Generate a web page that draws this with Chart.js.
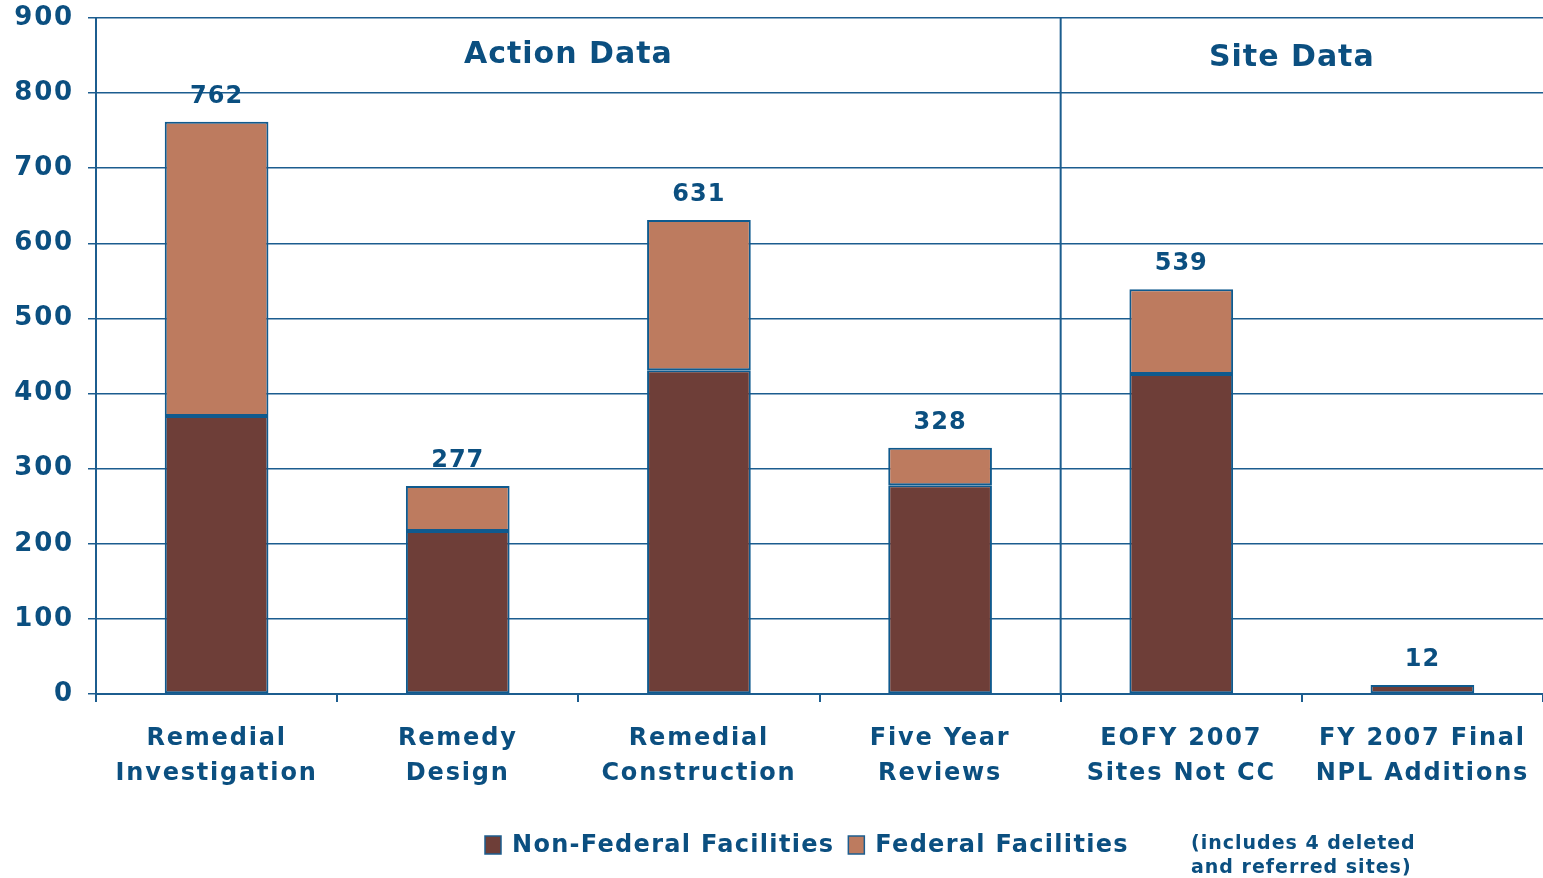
<!DOCTYPE html>
<html>
<head>
<meta charset="utf-8">
<script src="https://cdn.jsdelivr.net/npm/chart.js@4.4.1/dist/chart.umd.min.js"></script>
<style>
  html, body { margin: 0; padding: 0; background: #fff; }
  #wrap { position: relative; width: 1543px; height: 878px; }
  #note {
    position: absolute; left: 1191px; top: 830px;
    font: bold 19px "DejaVu Sans", sans-serif; line-height: 24px;
    color: #0b4f80; letter-spacing: 1px;
  }
</style>
</head>
<body>
<div id="wrap">
  <canvas id="chart" width="1543" height="878"></canvas>
  <div id="note">(includes 4 deleted<br>and referred sites)</div>
</div>
<script>
const categories = [
    ['Remedial', 'Investigation'],
    ['Remedy', 'Design'],
    ['Remedial', 'Construction'],
    ['Five Year', 'Reviews'],
    ['EOFY 2007', 'Sites Not CC'],
    ['FY 2007 Final', 'NPL Additions']
];
const nonFederal = [370, 217, 431, 278, 426, 12];
const federal = [392, 60, 200, 50, 113, 0];
const totals = [762, 277, 631, 328, 539, 12];
const sections = [
    { label: 'Action Data', from: 0, to: 3 },
    { label: 'Site Data', from: 4, to: 5 }
];

const blue = '#0b4f80';
const lineBlue = '#1c5d8f';
const font = '"DejaVu Sans", sans-serif';

const extras = {
    id: 'extras',
    beforeDraw(chart) {
        chart.ctx.letterSpacing = '1.8px';
    },
    afterDatasetsDraw(chart) {
        const ctx = chart.ctx;
        const x = chart.scales.x;
        const y = chart.scales.y;
        const half = (x.getPixelForValue(1) - x.getPixelForValue(0)) / 2;
        ctx.save();
        ctx.letterSpacing = '1px';

        // divider between action and site data
        const divX = x.getPixelForValue(sections[1].from) - half;
        ctx.strokeStyle = lineBlue;
        ctx.lineWidth = 2;
        ctx.beginPath();
        ctx.moveTo(divX, y.getPixelForValue(900));
        ctx.lineTo(divX, y.getPixelForValue(0));
        ctx.stroke();

        // section titles
        ctx.fillStyle = blue;
        ctx.textAlign = 'center';
        ctx.textBaseline = 'middle';
        ctx.font = 'bold 30px ' + font;
        sections.forEach((s, i) => {
            const l = x.getPixelForValue(s.from) - half;
            const r = x.getPixelForValue(s.to) + half;
            ctx.fillText(s.label, (l + r) / 2 - 10, y.getPixelForValue(850) + i * 3);
        });

        // totals above bars
        ctx.font = 'bold 24px ' + font;
        totals.forEach((t, i) => {
            ctx.fillText(String(t), x.getPixelForValue(i), y.getPixelForValue(t) - 25);
        });

        // legend
        ctx.font = 'bold 24px ' + font;
        ctx.textAlign = 'left';
        ctx.letterSpacing = '1.3px';
        let lx = 485;
        const ly = 845;
        chart.data.datasets.forEach(ds => {
            ctx.fillStyle = ds.backgroundColor;
            ctx.fillRect(lx, ly - 9, 16, 18);
            ctx.strokeStyle = lineBlue;
            ctx.lineWidth = 1.5;
            ctx.strokeRect(lx, ly - 9, 16, 18);
            ctx.fillStyle = blue;
            ctx.fillText(ds.label, lx + 27, ly + 1);
            lx += 27 + ctx.measureText(ds.label).width + 14;
        });
        ctx.restore();
    }
};

const ctx = document.getElementById('chart');

const chart = new Chart(ctx, {
    type: 'bar',
    data: {
        labels: categories,
        datasets: [{
            label: 'Non-Federal Facilities',
            data: nonFederal,
            backgroundColor: '#6e3e38',
            borderColor: '#0f5a8e',
            borderWidth: 2,
            borderSkipped: false
        }, {
            label: 'Federal Facilities',
            data: federal,
            backgroundColor: '#bd7b5f',
            borderColor: '#0f5a8e',
            borderWidth: 2,
            borderSkipped: false
        }]
    },
    options: {
        responsive: false,
        animation: false,
        layout: { padding: { top: 18, right: 0, left: 0, bottom: 0 } },
        categoryPercentage: 1,
        barPercentage: 0.43,
        plugins: {
            legend: { display: false },
            tooltip: { enabled: false }
        },
        scales: {
            x: {
                stacked: true,
                afterFit(scale) { scale.height = 184; },
                grid: {
                    offset: true,
                    drawOnChartArea: false,
                    drawTicks: true,
                    tickLength: 8,
                    color: lineBlue,
                    lineWidth: 2
                },
                border: { display: true, color: lineBlue, width: 2 },
                ticks: {
                    color: blue,
                    padding: 19,
                    maxRotation: 0,
                    autoSkip: false,
                    font: { family: font, size: 24, weight: 'bold', lineHeight: 1.47 }
                }
            },
            y: {
                stacked: true,
                min: 0,
                max: 900,
                afterFit(scale) {
                    scale.width = 96;
                    scale.paddingTop = 0;
                    scale.paddingBottom = 0;
                },
                grid: {
                    color: lineBlue,
                    lineWidth: 1.5,
                    tickLength: 8
                },
                border: { display: true, color: lineBlue, width: 2 },
                ticks: {
                    stepSize: 100,
                    color: blue,
                    padding: 14,
                    font: { family: font, size: 26, weight: 'bold' }
                }
            }
        }
    },
    plugins: [extras]
});
</script>
</body>
</html>
